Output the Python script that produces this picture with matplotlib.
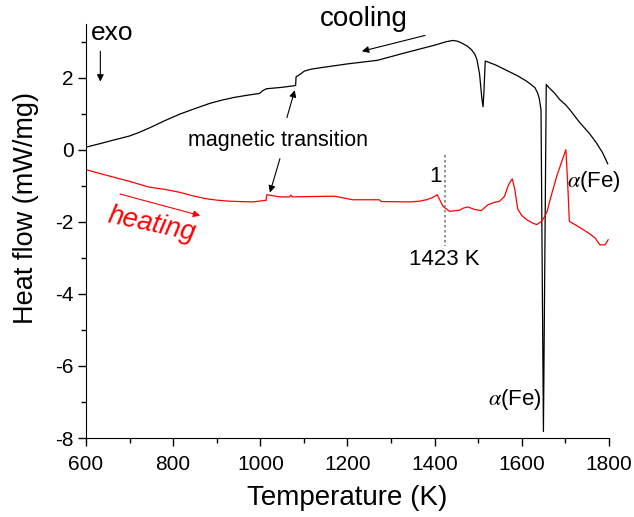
import matplotlib
matplotlib.use("Agg")
import matplotlib.pyplot as plt
from matplotlib.ticker import MultipleLocator

plt.rcParams["font.family"] = ["Liberation Sans", "DejaVu Sans"]
plt.rcParams["mathtext.fontset"] = "stix"
plt.rcParams["axes.unicode_minus"] = False

# DSC trace on cooling (black)
cooling_T = [600, 630, 655, 700, 720, 745, 780, 816, 850, 883, 910, 940, 970, 998,
             1006, 1014, 1050, 1081, 1082, 1090, 1101, 1115, 1136, 1200, 1269,
             1330, 1400, 1428, 1442, 1452, 1460, 1474, 1484, 1492, 1497, 1503,
             1508, 1511, 1513, 1516, 1540, 1565, 1590, 1611, 1622, 1630, 1636,
             1640, 1644, 1649.5, 1656, 1660, 1675, 1687, 1700, 1710, 1733, 1755,
             1771, 1785, 1797]
cooling_q = [0.07, 0.16, 0.24, 0.38, 0.47, 0.60, 0.80, 0.99, 1.14, 1.28, 1.37, 1.45,
             1.51, 1.56, 1.64, 1.69, 1.73, 1.78, 2.02, 2.08, 2.18, 2.23, 2.27, 2.38,
             2.48, 2.68, 2.90, 3.00, 3.03, 3.01, 2.97, 2.88, 2.78, 2.65, 2.50,
             2.10, 1.45, 1.19, 1.6, 2.46, 2.35, 2.20, 2.05, 1.90, 1.80, 1.72,
             1.58, 1.42, 1.10, -7.82, 1.81, 1.75, 1.57, 1.39, 1.25, 1.11, 0.75,
             0.45, 0.19, -0.08, -0.39]

# DSC trace on heating (red)
heating_T = [600, 650, 700, 745, 780, 814, 845, 875, 900, 929, 955, 983, 1009,
             1013, 1015, 1044, 1067, 1070, 1073, 1120, 1170, 1212, 1273, 1278,
             1342, 1365, 1381, 1395, 1406, 1412, 1419, 1434, 1457, 1466, 1476,
             1492, 1507, 1522, 1535, 1549, 1560, 1568, 1574, 1578, 1584, 1588,
             1591, 1600, 1611, 1622, 1634, 1645, 1652, 1658, 1668, 1680, 1691,
             1701, 1705, 1709, 1722, 1741, 1755, 1768, 1779, 1791, 1798]
heating_q = [-0.555, -0.72, -0.88, -1.04, -1.10, -1.18, -1.28, -1.36, -1.40, -1.43,
             -1.44, -1.45, -1.41, -1.41, -1.25, -1.31, -1.31, -1.26, -1.31, -1.30,
             -1.29, -1.39, -1.39, -1.44, -1.45, -1.43, -1.39, -1.33, -1.25, -1.40,
             -1.57, -1.71, -1.68, -1.62, -1.59, -1.66, -1.69, -1.53, -1.47, -1.43,
             -1.30, -1.02, -0.88, -0.81, -1.11, -1.45, -1.66, -1.83, -1.94, -2.02,
             -2.08, -1.99, -1.86, -1.71, -1.25, -0.74, -0.35, 0.0, -0.9, -1.99,
             -2.08, -2.22, -2.33, -2.45, -2.64, -2.64, -2.50]

T_mark = 1423

fig = plt.figure(figsize=(6.34, 5.17), dpi=100)
ax = fig.add_axes([0.1356, 0.1528, 0.825, 0.8017])

ax.plot(cooling_T, cooling_q, color="black", lw=0.9)
ax.plot(heating_T, heating_q, color="red", lw=0.9)
ax.plot([T_mark, T_mark], [-0.14, -2.68], color="gray", lw=1.2, ls=(0, (1.5, 1.5)))

ax.set_xlim(600, 1800)
ax.set_ylim(-8, 3.5)
ax.xaxis.set_major_locator(MultipleLocator(200))
ax.xaxis.set_minor_locator(MultipleLocator(100))
ax.yaxis.set_major_locator(MultipleLocator(2))
ax.yaxis.set_minor_locator(MultipleLocator(1))
ax.spines["top"].set_visible(False)
ax.spines["right"].set_visible(False)
ax.tick_params(which="major", direction="out", length=6, width=1, labelsize=15)
ax.tick_params(axis="x", which="major", pad=6)
ax.tick_params(axis="y", which="major", pad=3)
ax.tick_params(which="minor", direction="out", length=3.5, width=1)
ax.set_xlabel("Temperature (K)", fontsize=20)
ax.set_ylabel("Heat flow (mW/mg)", fontsize=19.5)
ax.xaxis.set_label_coords(0.5, -0.113)
ax.yaxis.set_label_coords(-0.09, 0.555)

arrow = dict(arrowstyle="-|>", lw=0.8, color="black", mutation_scale=10, shrinkA=0, shrinkB=0)

ax.text(611, 3.25, "exo", fontsize=19, ha="left", va="center")
ax.annotate("", xy=(633, 1.89), xytext=(633, 2.73), arrowprops=arrow)

ax.text(1238, 3.63, "cooling", fontsize=20, ha="center", va="center")
ax.annotate("", xy=(1233, 2.73), xytext=(1378, 3.17), arrowprops=arrow)

ax.text(1040, 0.25, "magnetic transition", fontsize=15.5, ha="center", va="center")
ax.annotate("", xy=(1079, 1.65), xytext=(1061, 0.89), arrowprops=arrow)
ax.annotate("", xy=(1022, -1.19), xytext=(1045, -0.25), arrowprops=arrow)

ax.text(751, -2.08, "heating", fontsize=19.5, color="red", style="italic",
        rotation=-12, ha="center", va="center")
ax.annotate("", xy=(862, -1.83), xytext=(678, -1.23),
            arrowprops=dict(arrow, color="red"))

ax.text(1401, -0.75, "1", fontsize=16, ha="center", va="center")
ax.text(1421, -3.05, f"{T_mark} K", fontsize=16, ha="center", va="center")
ax.text(1766, -0.89, r"$\alpha$(Fe)", fontsize=16, ha="center", va="center")
ax.text(1646, -6.94, r"$\alpha$(Fe)", fontsize=16, ha="right", va="center")

fig.savefig("out.png", dpi=100)
